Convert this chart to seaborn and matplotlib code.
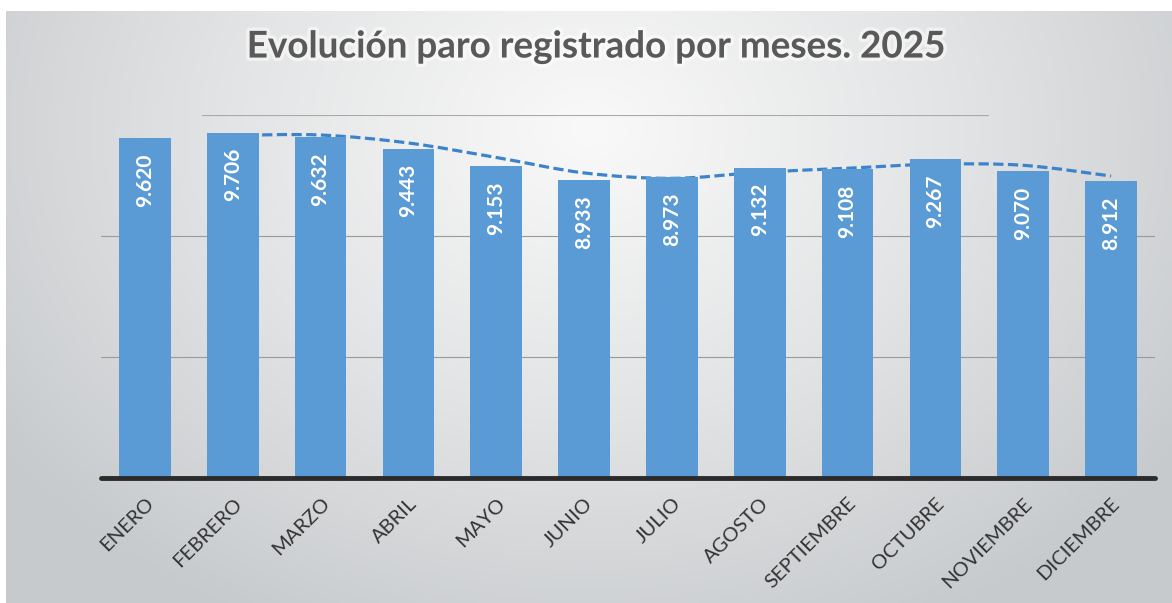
import numpy as np
import seaborn as sns
import matplotlib.pyplot as plt
import matplotlib.patheffects as pe
from matplotlib.path import Path
from matplotlib.patches import PathPatch
from matplotlib.colors import LinearSegmentedColormap

# datos
meses = ['ENERO', 'FEBRERO', 'MARZO', 'ABRIL', 'MAYO', 'JUNIO', 'JULIO',
         'AGOSTO', 'SEPTIEMBRE', 'OCTUBRE', 'NOVIEMBRE', 'DICIEMBRE']
parados = [9620, 9706, 9632, 9443, 9153, 8933, 8973, 9132, 9108, 9267, 9070, 8912]
etiquetas = ['9.620', '9.706', '9.632', '9.443', '9.153', '8.933', '8.973',
             '9.132', '9.108', '9.267', '9.070', '8.912']
# linea de tendencia (media movil 2 periodos), de febrero a diciembre
tendencia_pos = [1, 2, 3, 4, 5, 6, 7, 8, 9, 10, 11]
tendencia = [9663, 9669, 9537.5, 9298, 9043, 8953, 9052.5, 9120, 9187.5, 9168.5, 8991]
rejilla = [6000, 8000]

sns.set_theme(style='white')
plt.rcParams['font.family'] = ['Lato', 'DejaVu Sans']

W, H = 1172, 603
fig = plt.figure(figsize=(W / 100, H / 100), dpi=100)
fig.patch.set_facecolor('white')

# fondo degradado gris
bg = fig.add_axes([6 / W, 0, 1 - 6 / W, 1 - 11 / H], zorder=-5)
u, v = np.meshgrid(np.linspace(0, 1, 400), np.linspace(0, 1, 200))
d = np.sqrt(((u - 0.5) / 0.62) ** 2 + ((v - 0.2) / 0.95) ** 2)
cmap = LinearSegmentedColormap.from_list('fondo', ['#f9f9f9', '#e3e4e5', '#c7cacd'])
bg.imshow(np.clip(d, 0, 1), cmap=cmap, aspect='auto', extent=[0, 1, 0, 1])
bg.axis('off')

ax = fig.add_axes([101 / W, 1 - 478 / H, 1054 / W, 363 / H])
ax.set_facecolor('none')

sns.barplot(x=meses, y=parados, color='#5b9bd5', saturation=1, width=0.59,
            linewidth=0, ax=ax, zorder=2)

# linea suavizada punteada (detras de las barras)
pts = list(zip(tendencia_pos, tendencia))
verts = [pts[0]]
codes = [Path.MOVETO]
for i in range(len(pts) - 1):
    p0 = pts[max(i - 1, 0)]
    p1 = pts[i]
    p2 = pts[i + 1]
    p3 = pts[min(i + 2, len(pts) - 1)]
    c1 = (p1[0] + (p2[0] - p0[0]) / 6, p1[1] + (p2[1] - p0[1]) / 6)
    c2 = (p2[0] - (p3[0] - p1[0]) / 6, p2[1] - (p3[1] - p1[1]) / 6)
    verts += [c1, c2, p2]
    codes += [Path.CURVE4] * 3
ax.add_patch(PathPatch(Path(verts, codes), fill=False, edgecolor='#3c83cc',
                       lw=2.3, linestyle=(0, (3.2, 1.4)), zorder=1,
                       capstyle='butt'))

for y in rejilla:
    ax.axhline(y, color='#9a9a9a', lw=0.8, zorder=0)
ax.axhline(10000, xmin=0.096, xmax=0.842, color='#a9a9a9', lw=0.8, zorder=0)
ax.axhline(4000, color='#2b2b2b', lw=3.5, zorder=3, clip_on=False)

for i, (val, txt) in enumerate(zip(parados, etiquetas)):
    ax.annotate(txt, (i, val), xytext=(0, -11), textcoords='offset points',
                rotation=90, ha='center', va='top', color='white',
                fontsize=15, fontweight='bold', zorder=4)

ax.set_ylim(4000, 10000)
ax.set_xlim(-0.5, 11.5)
ax.set_yticks([])
ax.set_xlabel('')
ax.set_ylabel('')
ax.tick_params(axis='x', length=0, pad=12, labelsize=14.5, labelcolor='#333333')
plt.setp(ax.get_xticklabels(), rotation=45, ha='right', rotation_mode='anchor')
sns.despine(ax=ax, left=True, bottom=True)

fig.text(595 / W, 1 - 47 / H, 'Evolución paro registrado por meses. 2025',
         ha='center', va='center', fontsize=26.5, fontweight='bold',
         color='#595959',
         path_effects=[pe.withStroke(linewidth=5, foreground='white', alpha=0.5)])

fig.savefig('out.png', dpi=100)
